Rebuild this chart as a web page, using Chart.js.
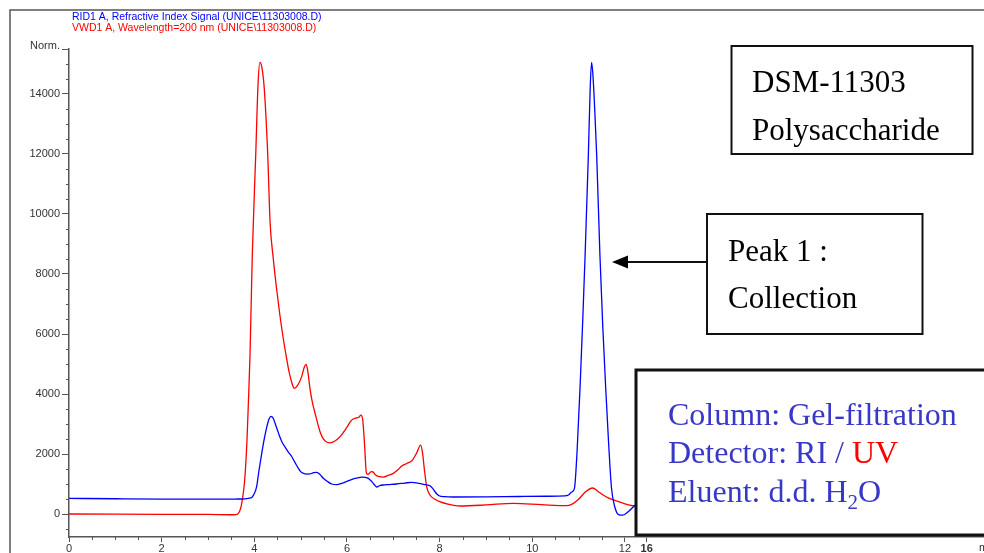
<!DOCTYPE html>
<html>
<head>
<meta charset="utf-8">
<script src="https://cdn.jsdelivr.net/npm/chart.js@4.4.1/dist/chart.umd.min.js"></script>
<style>
  html, body { margin: 0; padding: 0; background: #fff; }
  #wrap { width: 984px; height: 553px; position: relative; overflow: hidden; }
</style>
</head>
<body>
<div id="wrap"><canvas id="c" width="984" height="553"></canvas></div>
<script>
// Series labels
const seriesNames = [
  'RID1 A, Refractive Index Signal (UNICE\\11303008.D)',
  'VWD1 A, Wavelength=200 nm (UNICE\\11303008.D)'
];

// Refractive index trace (retention time in min, normalised signal)
const riTime = [0, 1.0, 2.0, 3.0, 3.6, 3.80, 3.87, 3.95, 4.00, 4.05, 4.10, 4.16, 4.22, 4.27, 4.32, 4.36, 4.41, 4.45,
  4.50, 4.55, 4.60, 4.66, 4.73, 4.81, 4.88, 4.95, 5.00, 5.06, 5.13, 5.20, 5.28, 5.35, 5.42, 5.49, 5.58, 5.67,
  5.78, 5.90, 6.07, 6.20, 6.32, 6.40, 6.46, 6.53, 6.58, 6.64, 6.70, 6.78, 6.92, 7.07, 7.25, 7.40, 7.52, 7.65,
  7.79, 7.85, 7.90, 7.95, 8.00, 8.10, 8.30, 9.00, 9.70, 10.30, 10.70, 10.78, 10.85, 10.91, 10.97, 11.03, 11.09,
  11.14, 11.21, 11.25, 11.28, 11.31, 11.35, 11.39, 11.46, 11.52, 11.585, 11.65, 11.71, 11.78, 11.86, 11.95,
  12.05, 12.20, 12.35];
const riSignal = [530, 518, 508, 505, 508, 515, 530, 570, 690, 918, 1450, 2028, 2550, 2912, 3180, 3259, 3190, 3025,
  2800, 2580, 2400, 2248, 2080, 1915, 1720, 1530, 1420, 1363, 1340, 1345, 1385, 1397, 1320, 1197, 1090, 1008,
  985, 1040, 1140, 1200, 1240, 1230, 1197, 1100, 1008, 908, 950, 975, 990, 1008, 1040, 1064, 1040, 998,
  951, 860, 750, 660, 608, 585, 575, 580, 592, 600, 610, 640, 740, 865, 2200, 4190, 6500,
  8622, 11947, 14200, 15040, 14600, 13400, 11947, 8622, 6300, 4190, 2300, 865, 250, -10, -30,
  60, 276, 450];

// UV 200 nm trace
const uvTime = [0, 1.0, 2.0, 3.0, 3.55, 3.63, 3.68, 3.72, 3.77, 3.80, 3.84, 3.87, 3.907, 3.956, 4.03, 4.08, 4.12,
  4.16, 4.215, 4.29, 4.34, 4.41, 4.48, 4.55, 4.625, 4.69, 4.75, 4.81, 4.863, 4.93, 5.02, 5.08, 5.12, 5.16, 5.20,
  5.25, 5.33, 5.43, 5.52, 5.63, 5.75, 5.87, 6.00, 6.10, 6.21, 6.26, 6.30, 6.34, 6.38, 6.42, 6.46, 6.52, 6.56,
  6.62, 6.70, 6.78, 6.90, 7.00, 7.10, 7.18, 7.30, 7.40, 7.50, 7.59, 7.63, 7.67, 7.72, 7.79, 7.90, 8.00, 8.20,
  8.44, 9.00, 9.59, 10.20, 10.74, 10.85, 11.00, 11.15, 11.30, 11.42, 11.53, 11.65, 11.82, 12.00, 12.20, 12.40];
const uvSignal = [10, 5, 0, -5, -15, -5, 90, 300, 800, 1300, 2400, 3634, 5297, 8622, 11947, 14300, 15040,
  14900, 14165, 11947, 9729, 8500, 7515, 6650, 5852, 5250, 4741, 4380, 4190, 4280, 4575, 4900, 4988, 4700, 4200,
  3750, 3250, 2700, 2450, 2380, 2450, 2620, 2900, 3135, 3212, 3230, 3302, 3150, 2300, 1363, 1330, 1420, 1410,
  1310, 1250, 1240, 1300, 1363, 1480, 1606, 1700, 1782, 2028, 2304, 2050, 1500, 918, 642, 500, 419, 330,
  276, 310, 366, 320, 286, 330, 500, 750, 875, 760, 642, 540, 442, 350, 276, 230];

// Axis ticks
const xTickValues = [0, 2, 4, 6, 8, 10, 12];
const xBreakTick = { value: 12.47, label: '16' };
const yTickValues = [0, 2000, 4000, 6000, 8000, 10000, 12000, 14000];
const xMinorStep = 0.5;
const yMinorStep = 500;

const tickFamily = '"Liberation Sans", Arial, sans-serif';
const serif = '"Liberation Serif", "Times New Roman", serif';
const axisGrey = '#555';

const notes = {
  id: 'notes',
  beforeDraw(chart) {
    const c = chart.ctx;
    c.save();
    c.fillStyle = '#fff';
    c.fillRect(0, 0, chart.width, chart.height);
    // page frame
    c.strokeStyle = '#555';
    c.lineWidth = 1.5;
    c.beginPath();
    c.moveTo(10, chart.height);
    c.lineTo(10, 10);
    c.lineTo(chart.width, 10);
    c.stroke();
    // signal names
    c.font = '10.5px ' + tickFamily;
    c.textBaseline = 'alphabetic';
    c.textAlign = 'left';
    chart.data.datasets.forEach((ds, i) => {
      c.fillStyle = ds.borderColor;
      c.fillText(ds.label, 72, 19.5 + i * 11);
    });
    c.restore();
  },
  afterDraw(chart) {
    const c = chart.ctx;
    const xs = chart.scales.x, ys = chart.scales.y;
    const area = chart.chartArea;
    c.save();
    // minor ticks
    c.strokeStyle = axisGrey;
    c.lineWidth = 1;
    c.beginPath();
    for (let i = 1; i * xMinorStep < 12; i++) {
      const v = i * xMinorStep;
      if (v % 2 === 0) continue;
      const px = Math.round(xs.getPixelForValue(v)) + 0.5;
      c.moveTo(px, area.bottom);
      c.lineTo(px, area.bottom + 3);
    }
    for (let i = -1; i * yMinorStep < ys.max; i++) {
      const v = i * yMinorStep;
      if (v % 2000 === 0) continue;
      const py = Math.round(ys.getPixelForValue(v)) + 0.5;
      c.moveTo(area.left - 3, py);
      c.lineTo(area.left, py);
    }
    const topY = Math.round(ys.getPixelForValue(ys.max)) + 0.5;
    c.moveTo(area.left - 7, topY);
    c.lineTo(area.left, topY);
    c.stroke();

    c.fillStyle = '#333';
    c.font = '11px ' + tickFamily;
    c.textAlign = 'right';
    c.textBaseline = 'middle';
    c.fillText('Norm.', 60, topY - 4);
    c.textAlign = 'left';
    c.fillText('min', 979, 548);

    // sample box
    c.strokeStyle = '#111';
    c.fillStyle = '#fff';
    c.lineWidth = 2;
    c.fillRect(731.5, 46, 241, 108);
    c.strokeRect(731.5, 46, 241, 108);
    c.fillStyle = '#000';
    c.font = '31px ' + serif;
    c.textBaseline = 'alphabetic';
    c.fillText('DSM-11303', 752, 92);
    c.fillText('Polysaccharide', 752, 140);

    // peak box + arrow
    c.fillStyle = '#fff';
    c.fillRect(707, 214, 215.5, 120);
    c.strokeRect(707, 214, 215.5, 120);
    c.fillStyle = '#000';
    c.fillText('Peak 1 :', 728, 261);
    c.fillText('Collection', 728, 308);
    c.beginPath();
    c.moveTo(707, 262);
    c.lineTo(626, 262);
    c.stroke();
    c.beginPath();
    c.moveTo(612, 262);
    c.lineTo(628, 255.5);
    c.lineTo(628, 268.5);
    c.closePath();
    c.fill();

    // method box
    c.lineWidth = 3;
    c.fillStyle = '#fff';
    c.fillRect(636, 370, 360, 165);
    c.strokeRect(636, 370, 360, 165);
    const blue = '#3838c8';
    c.font = '32px ' + serif;
    c.fillStyle = blue;
    c.fillText('Column: Gel-filtration', 668, 425);
    const det = 'Detector: RI / ';
    c.fillText(det, 668, 463);
    c.fillStyle = '#ff0000';
    c.fillText('UV', 668 + c.measureText(det).width, 463);
    c.fillStyle = blue;
    const el = 'Eluent: d.d. H';
    c.fillText(el, 668, 501.5);
    const w1 = c.measureText(el).width;
    c.font = '21px ' + serif;
    c.fillText('2', 668 + w1, 509);
    const w2 = c.measureText('2').width;
    c.font = '32px ' + serif;
    c.fillText('O', 668 + w1 + w2, 501.5);
    c.restore();
  }
};

const toPoints = (t, v) => t.map((x, i) => ({ x, y: v[i] }));

new Chart(document.getElementById('c'), {
  type: 'line',
  data: {
    datasets: [
      {
        label: seriesNames[0],
        data: toPoints(riTime, riSignal),
        borderColor: '#0000ff',
        borderWidth: 1.3,
        pointRadius: 0,
        cubicInterpolationMode: 'monotone',
        fill: false
      },
      {
        label: seriesNames[1],
        data: toPoints(uvTime, uvSignal),
        borderColor: '#ff0000',
        borderWidth: 1.3,
        pointRadius: 0,
        cubicInterpolationMode: 'monotone',
        fill: false
      }
    ]
  },
  options: {
    responsive: false,
    animation: false,
    devicePixelRatio: 1,
    layout: { padding: { top: 49, right: 0, left: 0, bottom: 0 } },
    plugins: { legend: { display: false }, tooltip: { enabled: false } },
    scales: {
      x: {
        type: 'linear',
        min: 0,
        max: 19.75,
        grid: { display: true, drawOnChartArea: false, tickLength: 5, color: axisGrey, tickColor: axisGrey },
        border: { display: true, color: axisGrey, width: 1.5 },
        afterBuildTicks: s => { s.ticks = [...xTickValues, xBreakTick.value].map(v => ({ value: v })); },
        afterFit: s => { s.height = 16; },
        ticks: {
          autoSkip: false,
          maxRotation: 0,
          padding: 0,
          color: '#333',
          font: ctx => ({ family: tickFamily, size: 11,
            weight: ctx.tick && ctx.tick.value === xBreakTick.value ? 'bold' : 'normal' }),
          callback: v => (v === xBreakTick.value ? xBreakTick.label : String(v))
        }
      },
      y: {
        type: 'linear',
        min: -756,
        max: 15488,
        grid: { display: true, drawOnChartArea: false, tickLength: 7, color: axisGrey, tickColor: axisGrey },
        border: { display: true, color: axisGrey, width: 1.5 },
        afterBuildTicks: s => { s.ticks = yTickValues.map(v => ({ value: v })); },
        afterFit: s => { s.width = 69; },
        ticks: {
          autoSkip: false,
          padding: 2,
          color: '#333',
          font: { family: tickFamily, size: 11 },
          callback: v => String(v)
        }
      }
    }
  },
  plugins: [notes]
});
</script>
</body>
</html>
